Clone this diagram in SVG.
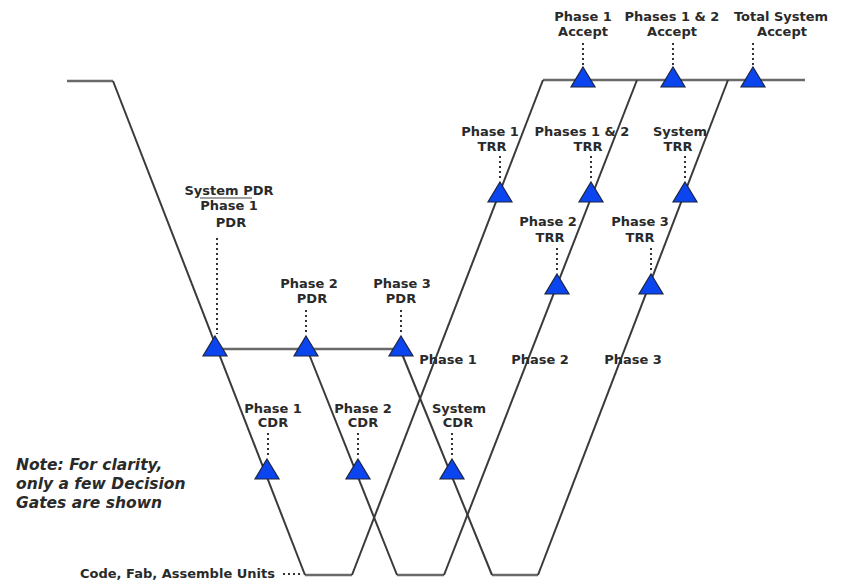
<svg xmlns="http://www.w3.org/2000/svg" width="843" height="581" viewBox="0 0 843 581">
<style>
.ln{fill:none;stroke:#3a3a3a;stroke-width:2;stroke-linejoin:miter}
.hl{fill:none;stroke:#6a6a6a;stroke-width:2.4}
.dot{fill:none;stroke:#333;stroke-width:2;stroke-dasharray:2,3}
.tri{fill:#0b45f0;stroke:#1c2440;stroke-width:1.2}
.lb{font-family:"DejaVu Sans",Verdana,sans-serif;font-weight:bold;font-size:13px;fill:#2a2a2a;text-anchor:middle}
.note{font-family:"DejaVu Sans",Verdana,sans-serif;font-weight:bold;font-style:italic;font-size:15.5px;fill:#2a2a2a}
</style>
<defs>
<polygon id="t" class="tri" points="0,-13 12,7 -12,7"/>
</defs>
<g id="connectors">
<path class="hl" d="M67,81 H113"/>
<path class="hl" d="M543,80 H805"/>
<path class="hl" d="M215,349 H400"/>
<path class="hl" d="M305,575 H352 M397,575 H444 M492,575 H538"/>
<path class="ln" d="M113,81 L305,575"/>
<path class="ln" d="M352,575 L543,80"/>
<path class="ln" d="M307,349 L397,575"/>
<path class="ln" d="M444,575 L637,80"/>
<path class="ln" d="M400,349 L492,575"/>
<path class="ln" d="M538,575 L728,80"/>
<path class="dot" d="M583,43 V66 M673,43 V66 M753,43 V66"/>
<path class="dot" d="M500,156 V181 M591,156 V181 M685,156 V181"/>
<path class="dot" d="M557,248 V272 M651,248 V272"/>
<path class="dot" d="M217,238 V334 M306,310 V334 M401,310 V334"/>
<path class="dot" d="M268,433 V458 M358,433 V458 M452,433 V458"/>
<path class="dot" d="M283,574 H303"/>
<path d="M200,198 H252" stroke="#444" stroke-width="1.2"/>
</g>
<g id="accept1"><use href="#t" x="583" y="80"/><text class="lb" x="583" y="21">Phase 1</text><text class="lb" x="583" y="36">Accept</text></g>
<g id="accept12"><use href="#t" x="673" y="80"/><text class="lb" x="672" y="21">Phases 1 &amp; 2</text><text class="lb" x="672" y="36">Accept</text></g>
<g id="acceptSys"><use href="#t" x="753" y="80"/><text class="lb" x="781" y="21">Total System</text><text class="lb" x="782" y="36">Accept</text></g>
<g id="trr1"><use href="#t" x="500" y="195"/><text class="lb" x="490" y="136">Phase 1</text><text class="lb" x="492" y="151">TRR</text></g>
<g id="trr12"><use href="#t" x="591" y="195"/><text class="lb" x="582" y="136">Phases 1 &amp; 2</text><text class="lb" x="588" y="151">TRR</text></g>
<g id="trrSys"><use href="#t" x="685" y="195"/><text class="lb" x="680" y="136">System</text><text class="lb" x="678" y="151">TRR</text></g>
<g id="trr2"><use href="#t" x="557" y="287"/><text class="lb" x="548" y="226">Phase 2</text><text class="lb" x="550" y="242">TRR</text></g>
<g id="trr3"><use href="#t" x="651" y="287"/><text class="lb" x="640" y="226">Phase 3</text><text class="lb" x="640" y="242">TRR</text></g>
<g id="pdr1"><use href="#t" x="215" y="349"/><text class="lb" x="229" y="195">System PDR</text><text class="lb" x="229" y="210">Phase 1</text><text class="lb" x="231" y="227">PDR</text></g>
<g id="pdr2"><use href="#t" x="306" y="349"/><text class="lb" x="309" y="288">Phase 2</text><text class="lb" x="312" y="303">PDR</text></g>
<g id="pdr3"><use href="#t" x="401" y="349"/><text class="lb" x="402" y="288">Phase 3</text><text class="lb" x="401" y="303">PDR</text></g>
<g id="phases"><text class="lb" x="448" y="364">Phase 1</text><text class="lb" x="540" y="364">Phase 2</text><text class="lb" x="633" y="364">Phase 3</text></g>
<g id="cdr1"><use href="#t" x="267" y="472"/><text class="lb" x="273" y="413">Phase 1</text><text class="lb" x="273" y="427">CDR</text></g>
<g id="cdr2"><use href="#t" x="358" y="472"/><text class="lb" x="363" y="413">Phase 2</text><text class="lb" x="363" y="427">CDR</text></g>
<g id="cdrSys"><use href="#t" x="452" y="472"/><text class="lb" x="459" y="413">System</text><text class="lb" x="458" y="427">CDR</text></g>
<g id="note"><text class="note" x="16" y="470">Note: For clarity,</text><text class="note" x="16" y="489">only a few Decision</text><text class="note" x="16" y="508">Gates are shown</text></g>
<g id="units"><text class="lb" x="80" y="578" style="text-anchor:start">Code, Fab, Assemble Units</text></g>
</svg>
